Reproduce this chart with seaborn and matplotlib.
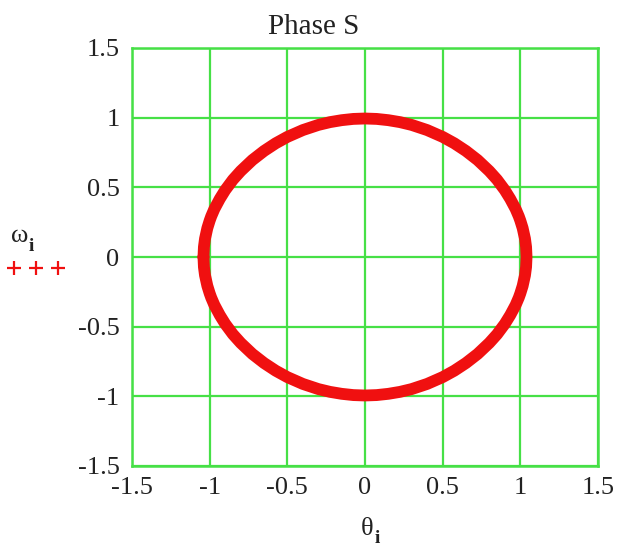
import matplotlib
matplotlib.use("Agg")
import matplotlib.pyplot as plt
from matplotlib.lines import Line2D
import pandas as pd
import seaborn as sns

# Phase portrait of the pendulum: angle theta_i against angular velocity omega_i
theta_upper = [-1.040, -1.037, -1.030, -1.015, -1.000, -0.990, -0.970, -0.935, -0.900,
               -0.850, -0.800, -0.725, -0.650, -0.575, -0.500, -0.400, -0.300, -0.225,
               -0.150, -0.075, 0.000, 0.075, 0.150, 0.225, 0.300, 0.400, 0.500, 0.575,
               0.650, 0.725, 0.800, 0.850, 0.900, 0.935, 0.970, 0.990, 1.000, 1.015,
               1.030, 1.037, 1.040]
omega_upper = [0.000, 0.072, 0.131, 0.207, 0.261, 0.292, 0.344, 0.417, 0.480,
               0.555, 0.617, 0.696, 0.761, 0.816, 0.862, 0.911, 0.948, 0.968,
               0.982, 0.991, 0.994, 0.991, 0.982, 0.968, 0.948, 0.911, 0.862, 0.816,
               0.761, 0.696, 0.617, 0.555, 0.480, 0.417, 0.344, 0.292, 0.261, 0.207,
               0.131, 0.072, 0.000]
theta_lower = [1.037, 1.030, 1.015, 1.000, 0.990, 0.970, 0.935, 0.900,
               0.850, 0.800, 0.725, 0.650, 0.575, 0.500, 0.400, 0.300, 0.225,
               0.150, 0.075, 0.000, -0.075, -0.150, -0.225, -0.300, -0.400, -0.500,
               -0.575, -0.650, -0.725, -0.800, -0.850, -0.900, -0.935, -0.970, -0.990,
               -1.000, -1.015, -1.030, -1.037, -1.040]
omega_lower = [-0.072, -0.131, -0.207, -0.261, -0.292, -0.344, -0.417, -0.480,
               -0.555, -0.617, -0.696, -0.761, -0.816, -0.862, -0.911, -0.948, -0.968,
               -0.982, -0.991, -0.994, -0.991, -0.982, -0.968, -0.948, -0.911, -0.862,
               -0.816, -0.761, -0.696, -0.617, -0.555, -0.480, -0.417, -0.344, -0.292,
               -0.261, -0.207, -0.131, -0.072, 0.000]

tick_values = [-1.5, -1.0, -0.5, 0.0, 0.5, 1.0, 1.5]
tick_labels = ["-1.5", "-1", "-0.5", "0", "0.5", "1", "1.5"]
title_text = "Phase S"

GREEN = "#46e046"
RED = "#f01010"
INK = "#222222"

sns.set_style("white")
plt.rcParams["font.family"] = ["Liberation Serif", "DejaVu Serif"]
plt.rcParams["axes.unicode_minus"] = False

df = pd.DataFrame({
    "theta": theta_upper + theta_lower,
    "omega": omega_upper + omega_lower,
})

fig = plt.figure(figsize=(6.19, 5.5), dpi=100)
ax = fig.add_axes([132 / 619, 1 - 466 / 550, (598 - 132) / 619, (466 - 48) / 550])

sns.lineplot(data=df, x="theta", y="omega", sort=False, estimator=None,
             color=RED, linewidth=8.5, solid_capstyle="round",
             solid_joinstyle="round", ax=ax, zorder=3)

ax.set_xlim(-1.5, 1.5)
ax.set_ylim(-1.5, 1.5)
ax.set_xticks(tick_values)
ax.set_yticks(tick_values)
ax.set_xticklabels(tick_labels)
ax.set_yticklabels(tick_labels)
ax.tick_params(axis="both", length=0, labelsize=19, colors=INK)
ax.tick_params(axis="x", pad=8)
ax.tick_params(axis="y", pad=9)
ax.grid(True, color=GREEN, linewidth=1.6, zorder=1)
for sp in ax.spines.values():
    sp.set_visible(True)
    sp.set_color(GREEN)
    sp.set_linewidth(1.8)
ax.set_xlabel("")
ax.set_ylabel("")

# title, axis names (upright Greek with a small subscript) and the series key
fig.text(268 / 619, 1 - 34 / 550, title_text, fontsize=21, color=INK,
         ha="left", va="baseline")
fig.text(361 / 619, 1 - 535 / 550, "θ", fontsize=19, color=INK,
         ha="left", va="baseline")
fig.text(375 / 619, 1 - 543 / 550, "i", fontsize=14, color=INK,
         ha="left", va="baseline", fontweight="bold")
fig.text(11 / 619, 1 - 242 / 550, "ω", fontsize=19, color=INK,
         ha="left", va="baseline")
fig.text(29 / 619, 1 - 251 / 550, "i", fontsize=14, color=INK,
         ha="left", va="baseline", fontweight="bold")
fig.add_artist(Line2D([14 / 619, 36 / 619, 58 / 619], [1 - 268 / 550] * 3,
                      transform=fig.transFigure, linestyle="none", marker="+",
                      markersize=10, markeredgewidth=1.6, color=RED))

fig.savefig("out.png", dpi=100)
